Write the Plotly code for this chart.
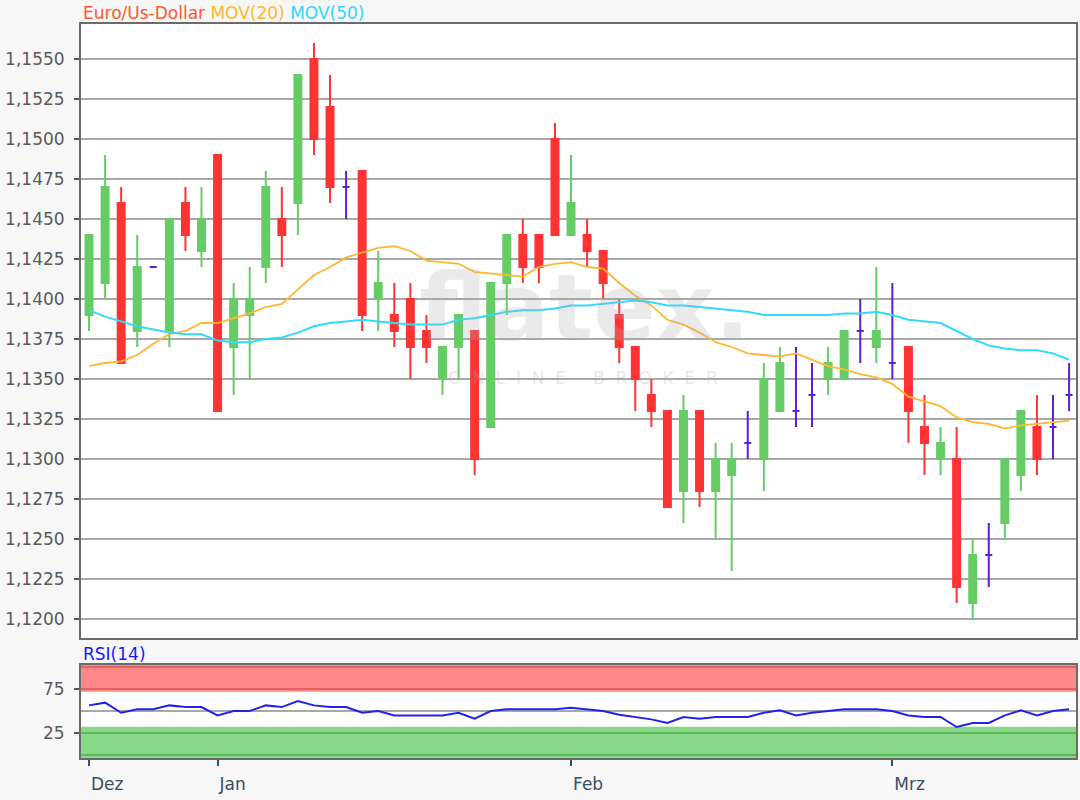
import plotly.graph_objects as go
import numpy as np

# ---------------- data ----------------
month_labels = ["Dez", "Jan", "Feb", "Mrz"]
month_index = [0, 8, 30, 50]

open_ = [1.1390, 1.1410, 1.1460, 1.1380, 1.1420, 1.1380, 1.1460, 1.1430, 1.1490, 1.1370,
         1.1390, 1.1420, 1.1450, 1.1460, 1.1550, 1.1520, 1.1470, 1.1480, 1.1400, 1.1390,
         1.1400, 1.1380, 1.1350, 1.1370, 1.1380, 1.1320, 1.1410, 1.1440, 1.1440, 1.1500,
         1.1440, 1.1440, 1.1430, 1.1390, 1.1370, 1.1340, 1.1330, 1.1280, 1.1330, 1.1280,
         1.1290, 1.1310, 1.1300, 1.1330, 1.1330, 1.1340, 1.1350, 1.1350, 1.1380, 1.1370,
         1.1360, 1.1370, 1.1320, 1.1300, 1.1300, 1.1210, 1.1240, 1.1260, 1.1290, 1.1320,
         1.1320, 1.1340]
high = [1.1440, 1.1490, 1.1470, 1.1440, 1.1420, 1.1450, 1.1470, 1.1470, 1.1490, 1.1410,
        1.1420, 1.1480, 1.1470, 1.1540, 1.1560, 1.1540, 1.1480, 1.1480, 1.1430, 1.1410,
        1.1410, 1.1390, 1.1370, 1.1390, 1.1380, 1.1410, 1.1440, 1.1450, 1.1440, 1.1510,
        1.1490, 1.1450, 1.1430, 1.1400, 1.1370, 1.1350, 1.1330, 1.1340, 1.1330, 1.1310,
        1.1310, 1.1330, 1.1360, 1.1370, 1.1370, 1.1360, 1.1370, 1.1380, 1.1400, 1.1420,
        1.1410, 1.1370, 1.1340, 1.1320, 1.1320, 1.1250, 1.1260, 1.1300, 1.1330, 1.1340,
        1.1340, 1.1360]
low = [1.1380, 1.1400, 1.1360, 1.1370, 1.1420, 1.1370, 1.1430, 1.1420, 1.1330, 1.1340,
       1.1350, 1.1410, 1.1420, 1.1440, 1.1490, 1.1460, 1.1450, 1.1380, 1.1380, 1.1370,
       1.1350, 1.1360, 1.1340, 1.1350, 1.1290, 1.1320, 1.1390, 1.1410, 1.1410, 1.1440,
       1.1440, 1.1420, 1.1400, 1.1360, 1.1330, 1.1320, 1.1270, 1.1260, 1.1270, 1.1250,
       1.1230, 1.1300, 1.1280, 1.1330, 1.1320, 1.1320, 1.1340, 1.1350, 1.1360, 1.1360,
       1.1350, 1.1310, 1.1290, 1.1290, 1.1210, 1.1200, 1.1220, 1.1250, 1.1280, 1.1290,
       1.1300, 1.1330]
close = [1.1440, 1.1470, 1.1360, 1.1420, 1.1420, 1.1450, 1.1440, 1.1450, 1.1330, 1.1400,
         1.1400, 1.1470, 1.1440, 1.1540, 1.1500, 1.1470, 1.1470, 1.1390, 1.1410, 1.1380,
         1.1370, 1.1370, 1.1370, 1.1390, 1.1300, 1.1410, 1.1440, 1.1420, 1.1420, 1.1440,
         1.1460, 1.1430, 1.1410, 1.1370, 1.1350, 1.1330, 1.1270, 1.1330, 1.1280, 1.1300,
         1.1300, 1.1310, 1.1350, 1.1360, 1.1330, 1.1340, 1.1360, 1.1380, 1.1380, 1.1380,
         1.1360, 1.1330, 1.1310, 1.1310, 1.1220, 1.1240, 1.1240, 1.1300, 1.1330, 1.1300,
         1.1320, 1.1340]
mov20 = [1.1358, 1.1360, 1.1361, 1.1365, 1.1372, 1.1378, 1.1380, 1.1385, 1.1385, 1.1388,
         1.1391, 1.1395, 1.1397, 1.1406, 1.1415, 1.1420, 1.1426, 1.1429, 1.1432, 1.1433,
         1.1430, 1.1424, 1.1423, 1.1422, 1.1417, 1.1416, 1.1415, 1.1414, 1.1420, 1.1422,
         1.1423, 1.1420, 1.1419, 1.1410, 1.1402, 1.1396, 1.1387, 1.1384, 1.1379, 1.1373,
         1.1370, 1.1366, 1.1365, 1.1364, 1.1366, 1.1362, 1.1358, 1.1356, 1.1353, 1.1351,
         1.1347, 1.1339, 1.1336, 1.1333, 1.1326, 1.1323, 1.1322, 1.1319, 1.1321, 1.1322,
         1.1323, 1.1324]
mov50 = [1.1393, 1.1389, 1.1386, 1.1383, 1.1381, 1.1379, 1.1378, 1.1378, 1.1374, 1.1373,
         1.1373, 1.1375, 1.1376, 1.1379, 1.1383, 1.1385, 1.1386, 1.1387, 1.1386, 1.1385,
         1.1384, 1.1384, 1.1384, 1.1387, 1.1388, 1.1390, 1.1392, 1.1393, 1.1393, 1.1394,
         1.1396, 1.1396, 1.1397, 1.1398, 1.1399, 1.1398, 1.1396, 1.1396, 1.1395, 1.1394,
         1.1393, 1.1392, 1.1390, 1.1390, 1.1390, 1.1390, 1.1390, 1.1391, 1.1391, 1.1392,
         1.1390, 1.1387, 1.1386, 1.1385, 1.1380, 1.1375, 1.1371, 1.1369, 1.1368, 1.1368,
         1.1366, 1.1362]
rsi14 = [56.4, 59.5, 48.0, 52.0, 52.0, 56.4, 54.5, 54.5, 45.0, 50.0,
         50.0, 56.4, 54.5, 61.4, 56.4, 54.5, 54.5, 48.0, 50.0, 45.0,
         45.0, 45.0, 45.0, 48.0, 41.3, 50.0, 52.0, 52.0, 52.0, 52.0,
         53.8, 52.0, 50.0, 45.8, 43.2, 40.5, 36.4, 43.2, 41.3, 43.2,
         43.2, 43.2, 48.0, 50.8, 45.0, 48.0, 50.0, 52.0, 52.0, 52.0,
         50.0, 45.0, 43.2, 43.2, 31.8, 36.4, 36.4, 45.0, 50.8, 45.0,
         50.0, 52.0]

# ---------------- styling ----------------
GREEN = "#66CC66"
RED = "#FF3333"
PURPLE = "#5A1EDC"
ORANGE = "#FFB732"
CYAN = "#33D9FF"
RSI_BLUE = "#2222EE"
FONT = "DejaVu Sans"

o = np.array(open_)
h = np.array(high)
l = np.array(low)
c = np.array(close)
idx = np.arange(len(open_))

up = c > o
down = c < o
flat = c == o

fig = go.Figure()


def add_candles(mask, color):
    fig.add_trace(go.Candlestick(
        x=idx[mask], open=o[mask], high=h[mask], low=l[mask], close=c[mask],
        increasing=dict(line=dict(color=color, width=2), fillcolor=color),
        decreasing=dict(line=dict(color=color, width=2), fillcolor=color),
        whiskerwidth=0, showlegend=False, hoverinfo="skip",
        xaxis="x", yaxis="y"))


add_candles(up, GREEN)
add_candles(down, RED)
add_candles(flat, PURPLE)

fig.add_trace(go.Scatter(x=idx, y=mov20, mode="lines",
                         line=dict(color=ORANGE, width=1.8),
                         showlegend=False, hoverinfo="skip", xaxis="x", yaxis="y"))
fig.add_trace(go.Scatter(x=idx, y=mov50, mode="lines",
                         line=dict(color=CYAN, width=2),
                         showlegend=False, hoverinfo="skip", xaxis="x", yaxis="y"))
fig.add_trace(go.Scatter(x=idx, y=rsi14, mode="lines",
                         line=dict(color=RSI_BLUE, width=2),
                         showlegend=False, hoverinfo="skip", xaxis="x2", yaxis="y2"))

# RSI bands
RSI_MIN, RSI_MAX = -3.4, 102.3
shapes = [
    dict(type="rect", xref="x2 domain", yref="y2", x0=0, x1=1, y0=72, y1=RSI_MAX,
         fillcolor="#FF8888", line=dict(width=0), layer="below"),
    dict(type="rect", xref="x2 domain", yref="y2", x0=0, x1=1, y0=RSI_MIN, y1=32,
         fillcolor="#88D888", line=dict(width=0), layer="below"),
]
for yv, col in [(100, "#E06464"), (75, "#E06464"), (25, "#5CB85C"), (0, "#5CB85C"), (50, "#A8A8A8")]:
    shapes.append(dict(type="line", xref="x2 domain", yref="y2", x0=0, x1=1, y0=yv, y1=yv,
                       line=dict(color=col, width=2), layer="below"))

annotations = [
    dict(xref="paper", yref="paper", x=0, y=1, xanchor="left", yanchor="bottom",
         showarrow=False, yshift=-1,
         text=("<span style='color:#FF5A2E'>Euro/Us-Dollar</span> "
               "<span style='color:#FFB530'>MOV(20)</span> "
               "<span style='color:#33D6FF'>MOV(50)</span>"),
         font=dict(family=FONT, size=17)),
    dict(xref="paper", yref="paper", x=0, y=0.1267, xanchor="left", yanchor="bottom",
         showarrow=False, yshift=-1, text="RSI(14)",
         font=dict(family=FONT, size=17, color="#1A1AFF")),
    dict(xref="paper", yref="paper", x=0.506, y=0.612, xanchor="center", yanchor="middle",
         showarrow=False, text="<b>flatex.</b>",
         font=dict(family=FONT, size=92, color="rgba(170,170,170,0.25)")),
    dict(xref="paper", yref="paper", x=0.505, y=0.518, xanchor="center", yanchor="middle",
         showarrow=False, text="O  N  L  I  N  E     B  R  O  K  E  R",
         font=dict(family=FONT, size=17, color="rgba(170,170,170,0.3)")),
]

AXIS_LINE = "#6B6B6B"
fig.update_layout(
    width=1080, height=800,
    margin=dict(l=81, r=2, t=24, b=42),
    paper_bgcolor="#F7F7F7",
    plot_bgcolor="#FFFFFF",
    separators=",.",
    boxgap=0.38,
    font=dict(family=FONT, size=17, color="#5A5A5A"),
    shapes=shapes,
    annotations=annotations,
    xaxis=dict(domain=[0, 1], anchor="y", range=[-0.5, 61.43], showgrid=False,
               showticklabels=False, ticks="", zeroline=False,
               showline=True, mirror=True, linecolor=AXIS_LINE, linewidth=2,
               rangeslider=dict(visible=False)),
    yaxis=dict(domain=[0.1635, 1.0], anchor="x", range=[1.11881, 1.15719],
               tick0=1.12, dtick=0.0025, tickformat=".4f",
               showgrid=True, gridcolor="#A8A8A8", gridwidth=1.5, zeroline=False,
               ticks="outside", ticklen=5, tickcolor="#555555", tickwidth=1.5,
               ticklabelstandoff=6,
               showline=True, mirror=True, linecolor=AXIS_LINE, linewidth=2,
               tickfont=dict(family=FONT, size=17, color="#5A5A5A")),
    xaxis2=dict(domain=[0, 1], anchor="y2", matches="x", range=[-0.5, 61.43],
                showgrid=False, zeroline=False,
                tickmode="array", tickvals=month_index, ticktext=month_labels,
                ticks="outside", ticklen=6, tickwidth=2, tickcolor="#3A4D63",
                ticklabelposition="outside right", ticklabelstandoff=10,
                tickfont=dict(family=FONT, size=17, color="#3A4D63"),
                showline=True, mirror=True, linecolor=AXIS_LINE, linewidth=2),
    yaxis2=dict(domain=[0, 0.1267], anchor="x2", range=[RSI_MIN, RSI_MAX],
                tickmode="array", tickvals=[25, 75], ticktext=["25", "75"],
                showgrid=False, zeroline=False,
                ticks="outside", ticklen=5, tickcolor="#555555", tickwidth=1.5,
                ticklabelstandoff=6,
                showline=True, mirror=True, linecolor=AXIS_LINE, linewidth=2,
                tickfont=dict(family=FONT, size=17, color="#5A5A5A")),
)

fig.write_html("out.html", config={"displayModeBar": False},
               post_script="document.body.style.margin='0';")
